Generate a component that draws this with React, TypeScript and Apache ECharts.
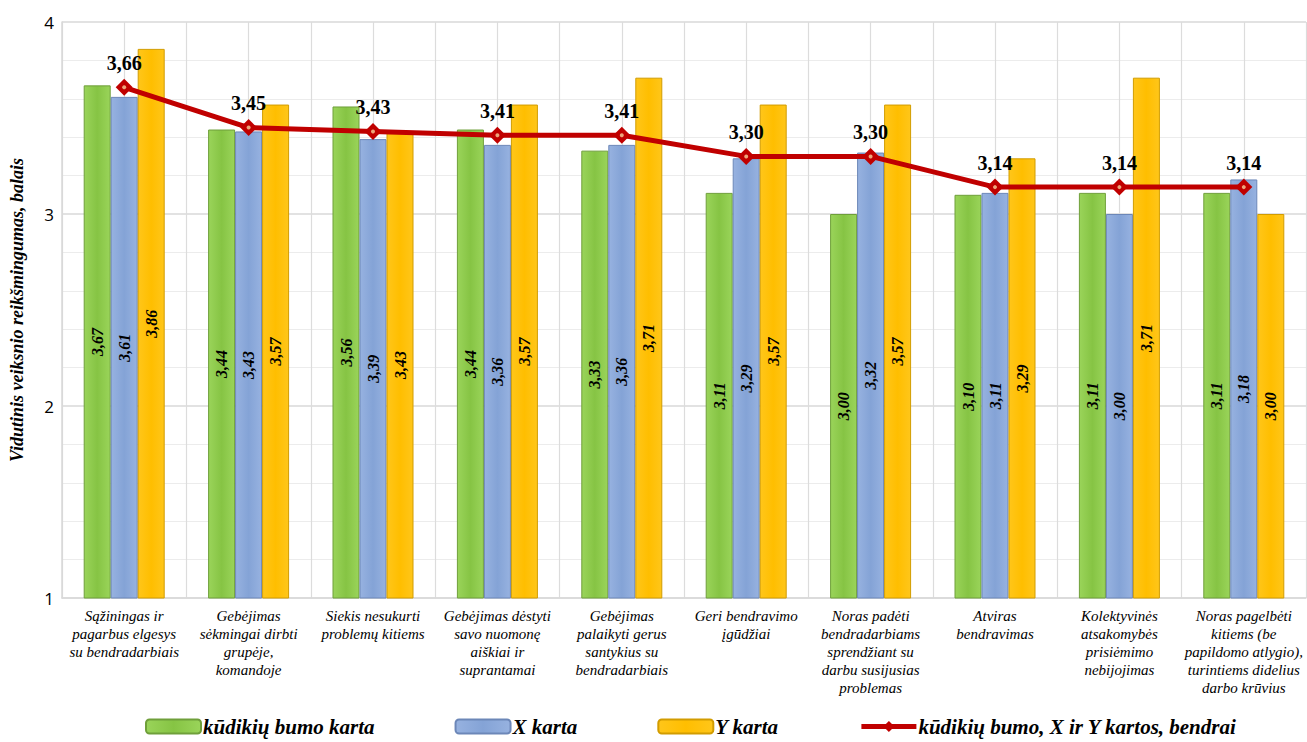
import React, { useEffect, useRef } from "react";
import * as echarts from "echarts";

const categories = [
  "Sąžiningas ir\npagarbus elgesys\nsu bendradarbiais",
  "Gebėjimas\nsėkmingai dirbti\ngrupėje,\nkomandoje",
  "Siekis nesukurti\nproblemų kitiems",
  "Gebėjimas dėstyti\nsavo nuomonę\naiškiai ir\nsuprantamai",
  "Gebėjimas\npalaikyti gerus\nsantykius su\nbendradarbiais",
  "Geri bendravimo\nįgūdžiai",
  "Noras padėti\nbendradarbiams\nsprendžiant su\ndarbu susijusias\nproblemas",
  "Atviras\nbendravimas",
  "Kolektyvinės\natsakomybės\nprisiėmimo\nnebijojimas",
  "Noras pagelbėti\nkitiems (be\npapildomo atlygio),\nturintiems didelius\ndarbo krūvius",
];

const boomers = [3.67, 3.44, 3.56, 3.44, 3.33, 3.11, 3.0, 3.1, 3.11, 3.11];
const genX = [3.61, 3.43, 3.39, 3.36, 3.36, 3.29, 3.32, 3.11, 3.0, 3.18];
const genY = [3.86, 3.57, 3.43, 3.57, 3.71, 3.57, 3.57, 3.29, 3.71, 3.0];
const overall = [3.66, 3.45, 3.43, 3.41, 3.41, 3.3, 3.3, 3.14, 3.14, 3.14];

const seriesNames = [
  "kūdikių bumo karta",
  "X karta",
  "Y karta",
  "kūdikių bumo, X ir Y kartos, bendrai",
];

const yTicks = { min: 1, max: 4, step: 1 };

const SERIF = "Liberation Serif";
const LINE_RED = "#c00000";
const comma = (v: number) => v.toFixed(2).replace(".", ",");

function barSeries(name: string, data: number[], top: string, bottom: string, border: string) {
  return {
    name,
    type: "bar",
    data,
    barWidth: 27,
    barGap: "0%",
    itemStyle: {
      color: new echarts.graphic.LinearGradient(0, 0, 1, 0, [
        { offset: 0, color: top },
        { offset: 0.5, color: bottom },
        { offset: 1, color: top },
      ]),
      borderColor: border,
      borderWidth: 1,
    },
    label: {
      show: true,
      position: "inside",
      rotate: 90,
      formatter: (p: any) => comma(p.value),
      color: "#000",
      fontFamily: SERIF,
      fontWeight: "bold",
      fontStyle: "italic",
      fontSize: 16,
    },
    z: 2,
  };
}

export default function App() {
  const ref = useRef<HTMLDivElement>(null);

  useEffect(() => {
    if (!ref.current) return;
    const chart = echarts.init(ref.current, undefined, { renderer: "svg" });
    chart.setOption({
      animation: false,
      backgroundColor: "#fff",
      textStyle: { fontFamily: SERIF },
      grid: { left: 58, right: 1, top: 22, bottom: 144 },
      legend: {
        left: 140,
        top: 711,
        itemWidth: 55,
        itemHeight: 14,
        itemGap: 80,
        data: [
          seriesNames[0],
          seriesNames[1],
          seriesNames[2],
          {
            name: seriesNames[3],
            itemStyle: { color: LINE_RED },
            lineStyle: { color: LINE_RED, width: 5 },
          },
        ],
        textStyle: {
          fontFamily: SERIF,
          fontWeight: "bold",
          fontStyle: "italic",
          fontSize: 21,
          color: "#000",
          padding: [0, 0, 0, -3],
        },
      },
      xAxis: [
        {
          type: "category",
          data: categories,
          axisLine: { lineStyle: { color: "#d9d9d9", width: 1.5 } },
          axisTick: { show: false },
          splitLine: { show: false },
          axisLabel: {
            interval: 0,
            margin: 9,
            color: "#000",
            fontFamily: SERIF,
            fontStyle: "italic",
            fontSize: 15,
            lineHeight: 18,
          },
        },
        {
          type: "value",
          min: 0,
          max: 10,
          interval: 0.5,
          position: "bottom",
          axisLine: { show: false },
          axisTick: { show: false },
          axisLabel: { show: false },
          splitLine: { show: true, lineStyle: { color: "#dcdcdc", width: 1.2 } },
        },
      ],
      yAxis: {
        type: "value",
        min: yTicks.min,
        max: yTicks.max,
        interval: yTicks.step,
        name: "Vidutinis veiksnio reikšmingumas, balais",
        nameLocation: "middle",
        nameGap: 36,
        nameTextStyle: {
          fontFamily: SERIF,
          fontWeight: "bold",
          fontStyle: "italic",
          fontSize: 18,
          color: "#000",
        },
        axisLine: { show: true, lineStyle: { color: "#d9d9d9", width: 1.5 } },
        axisTick: { show: false },
        axisLabel: {
          margin: 8,
          color: "#000",
          fontFamily: "Open Sans",
          fontSize: 17,
        },
        splitLine: { lineStyle: { color: "#d9d9d9", width: 1.5 } },
        minorTick: { show: false, splitNumber: 5 },
        minorSplitLine: { show: true, lineStyle: { color: "#ececec", width: 1 } },
      },
      series: [
        barSeries(seriesNames[0], boomers, "#9ad45a", "#86c444", "#6f9f3a"),
        barSeries(seriesNames[1], genX, "#97b2e0", "#84a3d6", "#6c87b8"),
        barSeries(seriesNames[2], genY, "#ffc61a", "#ffbe00", "#d29c00"),
        {
          name: seriesNames[3],
          type: "line",
          data: overall,
          symbol: "diamond",
          symbolSize: 17,
          lineStyle: { color: LINE_RED, width: 5 },
          itemStyle: { color: LINE_RED },
          label: {
            show: true,
            position: "top",
            distance: 6,
            formatter: (p: any) => comma(p.value),
            color: "#000",
            fontFamily: SERIF,
            fontWeight: "bold",
            fontSize: 20,
          },
          z: 5,
        },
        {
          name: "centre",
          type: "scatter",
          data: overall,
          symbol: "circle",
          symbolSize: 4,
          itemStyle: { color: "#f7cf9a" },
          silent: true,
          z: 6,
        },
      ],
    });
    return () => chart.dispose();
  }, []);

  return (
    <div
      ref={ref}
      style={{ position: "fixed", left: 0, top: 0, width: 1307, height: 742 }}
    />
  );
}
